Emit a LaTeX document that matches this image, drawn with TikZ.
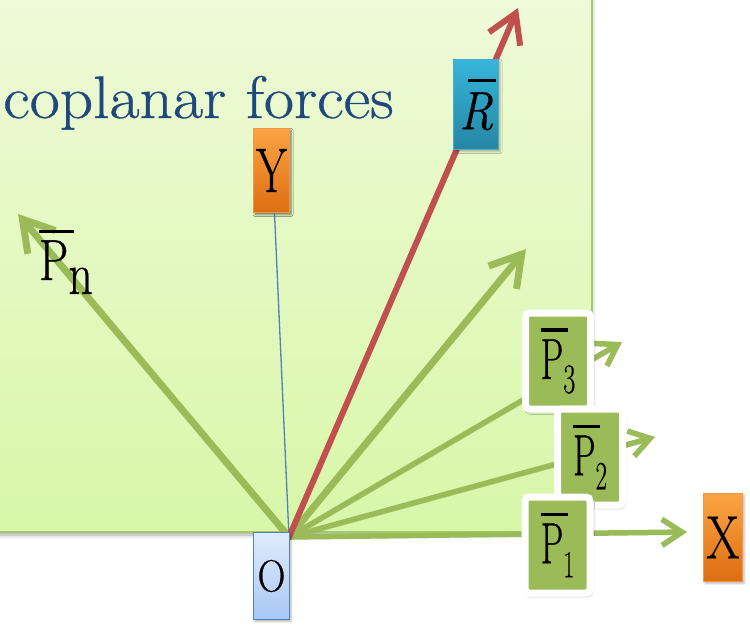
\documentclass[tikz,border=0pt]{standalone}
\usepackage{fontspec}
\setmainfont{Latin Modern Roman}[FakeBold=0.6]
\usepackage{graphicx}
\usetikzlibrary{arrows.meta,shadows.blur}
\definecolor{panelTop}{HTML}{EFFAD9}
\definecolor{panelBot}{HTML}{D8F7A8}
\definecolor{panelLine}{HTML}{A6C96C}
\definecolor{fgreen}{HTML}{9BBB59}
\definecolor{fred}{HTML}{C0504D}
\definecolor{fblue}{HTML}{4F81BD}
\definecolor{titleblue}{HTML}{1F497D}
\definecolor{orTop}{HTML}{FBA443}
\definecolor{orBot}{HTML}{DD6E12}
\definecolor{orLine}{HTML}{F79646}
\definecolor{cyTop}{HTML}{36B5DA}
\definecolor{cyBot}{HTML}{2586A3}
\definecolor{cyLine}{HTML}{4BACC6}
\definecolor{oTop}{HTML}{E1EBFC}
\definecolor{oBot}{HTML}{A8C8F6}
\newcommand{\barP}[3]{% #1 sub, #2 h-scale, #3 sub size
  \scalebox{#2}[1]{\fontsize{58}{58}\selectfont\rlap{\raisebox{47pt}{\rule{44pt}{3.5pt}}}P\raisebox{-14pt}{\fontsize{#3}{#3}\selectfont #1}}}
\tikzset{
  farrow/.style={line width=7pt, line cap=round, line join=round,
    -{Straight Barb[length=30pt,width=36pt]},
    preaction={draw=black, opacity=0.12, transform canvas={shift={(1.5pt,-2.5pt)}}}},
  garrow/.style={farrow, draw=fgreen},
  sarrow/.style={farrow, draw=fgreen, line width=5.5pt, -{Straight Barb[length=20pt,width=26pt]}},
  rarrow/.style={farrow, draw=fred, line width=6pt, -{Straight Barb[length=28pt,width=34pt]}},
  letterbox/.style={inner sep=0pt, line width=1.5pt,
    blur shadow={shadow xshift=1.5pt, shadow yshift=-2pt, shadow blur radius=2pt, shadow opacity=30}},
  orbox/.style={letterbox, draw=orLine, top color=orTop, bottom color=orBot, minimum width=36pt, minimum height=84pt},
  pbox/.style={inner sep=0pt, fill=fgreen, draw=white, line width=7pt, rounded corners=4pt,
    minimum width=65pt, minimum height=96pt,
    blur shadow={shadow xshift=1.5pt, shadow yshift=-2.5pt, shadow blur radius=3pt, shadow opacity=35}},
}
\begin{document}
\begin{tikzpicture}[x=1pt,y=-1pt]
\useasboundingbox (0,0) rectangle (750,625);
% panel
\path[blur shadow={shadow xshift=0pt, shadow yshift=-3pt, shadow blur radius=4pt, shadow opacity=35}]
  (-10,-10) rectangle (592,532);
\path[top color=panelTop, bottom color=panelBot, draw=panelLine, line width=1.5pt]
  (-10,-10) rectangle (592,532);
\node[anchor=base west, inner sep=0pt, text=titleblue] (title) at (3,118)
  {\scalebox{1.09}[1]{\fontsize{60}{60}\selectfont coplanar forces}};
% nodes
\coordinate (orig) at (289,537);
\coordinate (tipN) at (18,214);
\coordinate (tip4) at (526,249);
\coordinate (tip3) at (622,342);
\coordinate (tip2) at (655,437);
\coordinate (tip1) at (687,532);
\coordinate (tipR) at (518,8);
\node[orbox] (ybox) at (271.5,170.5) {\scalebox{0.7}[1]{\fontsize{63}{63}\selectfont Y}};
\draw[fblue, line width=1.3pt] (orig) -- ([xshift=3pt]ybox.south);
\draw[garrow] (orig) -- (tipN);
\draw[garrow] (orig) -- (tip4);
\draw[sarrow] (orig) -- (tip3);
\draw[sarrow] (orig) -- (tip2);
\draw[sarrow] (orig) -- (tip1);
\draw[rarrow] (orig) -- (tipR);
\node[orbox] at (271.5,170.5) {\scalebox{0.7}[1]{\fontsize{63}{63}\selectfont Y}};
\node[orbox, minimum width=39pt, minimum height=88pt] (xbox) at (723,537.5) {\scalebox{0.78}[1]{\fontsize{61}{61}\selectfont X}};
\node[letterbox, draw=cyLine, top color=cyTop, bottom color=cyBot, minimum width=45pt, minimum height=90pt] (rbox) at (476,104.5)
  {\scalebox{0.88}[1]{\fontsize{54}{54}\selectfont\rlap{\hspace{10pt}\raisebox{47pt}{\rule{32pt}{3.5pt}}}\textit{R}}};
\node[letterbox, draw=fblue, top color=oTop, bottom color=oBot, minimum width=36pt, minimum height=87pt] (obox) at (271.5,576)
  {\scalebox{0.86}[1]{\fontsize{45}{45}\selectfont O}};
\node[pbox] (p3) at (558,361) {\barP{3}{0.62}{42}};
\node[pbox] (p2) at (590,457) {\barP{2}{0.62}{40}};
\node[pbox] (p1) at (557.5,545) {\barP{1}{0.62}{38}};
\node[anchor=base west, inner sep=0pt] (pn) at (39,280) {\barP{n}{0.8}{60}};
\end{tikzpicture}
\end{document}
